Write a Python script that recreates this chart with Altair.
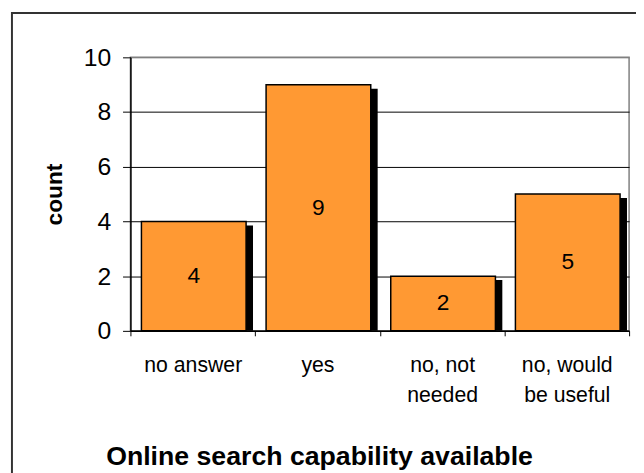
import altair as alt
import pandas as pd

# ---- data ----
categories = ["no answer", "yes", "no, not needed", "no, would be useful"]
counts = [4, 9, 2, 5]
label_lines = [["no answer"], ["yes"], ["no, not", "needed"], ["no, would", "be useful"]]
y_ticks = [0, 2, 4, 6, 8, 10]
x_title = "Online search capability available"
y_title = "count"

FONT = "Liberation Sans"
BAR_COLOR = "#FF9933"
PLOT_W, PLOT_H = 505, 277

df = pd.DataFrame({"category": categories, "count": counts})
df["mid"] = [c / 2 for c in counts]
frame_df = pd.DataFrame({"k": [0]})

# multi-line x labels
parts = []
for cat, lines in zip(categories, label_lines):
    if len(lines) > 1:
        arr = "[" + ", ".join("'" + l + "'" for l in lines) + "]"
        parts.append(f"datum.label == '{cat}' ? {arr}")
label_expr = " : ".join(parts) + " : datum.label"

x_scale = alt.Scale(paddingInner=0, paddingOuter=0)
y_scale = alt.Scale(domain=[0, 10], nice=False)

x_axis = alt.Axis(
    title=x_title, labelExpr=label_expr, labelAngle=0, labelFontSize=21.5,
    labelFont=FONT, labelColor="black", labelPadding=19, labelLineHeight=31,
    labelOverlap=False, labelLimit=250, tickBand="extent", tickSize=5,
    tickColor="black", tickWidth=1, domainColor="black", domainWidth=1.5,
    grid=False, titleFont=FONT, titleFontSize=27, titleFontWeight="bold",
    titleColor="black", titleX=191, titleY=135, titleAlign="center",
    titleBaseline="alphabetic",
)
y_axis = alt.Axis(
    title=y_title, values=y_ticks, labelFontSize=25, labelFont=FONT,
    labelColor="black", labelPadding=12, tickSize=8, tickColor="black",
    tickWidth=1, domainColor="black", domainWidth=1.5, grid=True,
    gridColor={"condition": {"test": "datum.value === 10", "value": "#808080"}, "value": "#000000"},
    gridWidth=1, titleFont=FONT, titleFontSize=23, titleFontWeight="bold",
    titleColor="black", titleAngle=270, titleX=-77, titleY=138.5,
    titleAlign="center", titleBaseline="middle",
)

x_enc = alt.X("category:N", sort=categories, scale=x_scale, axis=x_axis)

frame = alt.Chart(frame_df).mark_rect(
    fill="transparent", stroke="#333333", strokeWidth=2
).encode(
    x=alt.value(-120), x2=alt.value(530), y=alt.value(-45), y2=alt.value(450)
)

shadow = alt.Chart(df).mark_bar(
    color="black", width=106, xOffset=8, yOffset=4, y2Offset=0
).encode(
    x=x_enc,
    y=alt.Y("count:Q", scale=y_scale, axis=y_axis),
    y2=alt.Y2(datum=0),
)

bars = alt.Chart(df).mark_bar(
    fill=BAR_COLOR, stroke="black", strokeWidth=1.5, width=106, xOffset=1
).encode(
    x=x_enc,
    y=alt.Y("count:Q", scale=y_scale, axis=y_axis),
    y2=alt.Y2(datum=0),
)

text = alt.Chart(df).mark_text(
    fontSize=23, font=FONT, color="black", xOffset=1, baseline="middle"
).encode(
    x=x_enc,
    y=alt.Y("mid:Q", scale=y_scale, axis=y_axis),
    text="count:Q",
)

chart = alt.layer(shadow, bars, text, frame).properties(
    width=PLOT_W, height=PLOT_H, autosize="none",
    padding={"left": 124, "top": 47, "right": 7, "bottom": 142},
    background="white",
).configure_view(stroke="#808080", strokeWidth=1.5)

chart.save("out.html", embed_options={"renderer": "svg", "actions": False})
